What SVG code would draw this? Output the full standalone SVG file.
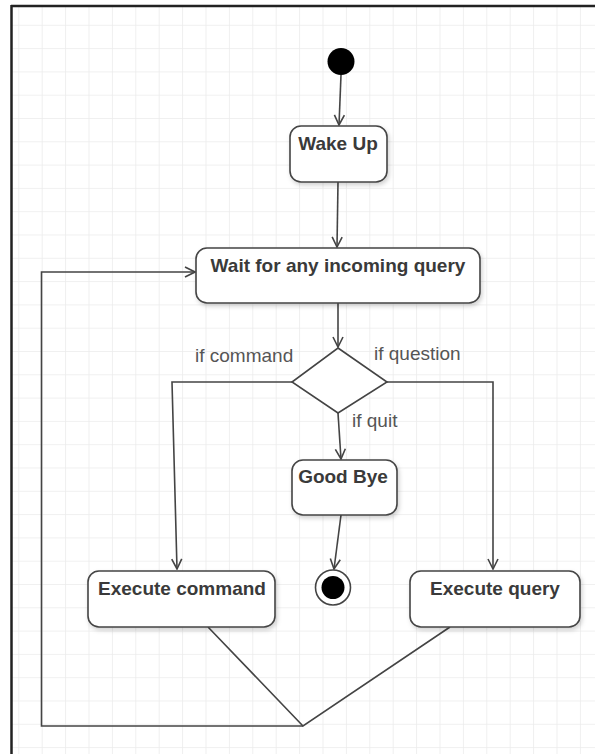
<svg xmlns="http://www.w3.org/2000/svg" width="595" height="754" viewBox="0 0 595 754">
<style>
.box{fill:#fff;stroke:#444;stroke-width:1.6}
.lbl{font-family:"Liberation Sans",Arial,sans-serif;font-weight:bold;font-size:19px;fill:#3a3a3a;text-anchor:middle}
.grd{font-family:"Liberation Sans",Arial,sans-serif;font-size:19px;fill:#555}
.cn{fill:none;stroke:#444;stroke-width:1.6}
</style>
<defs>
<pattern id="grid" width="23.4" height="23.3" patternUnits="userSpaceOnUse" x="18.3" y="1.5">
<path d="M0 0H23.4M0 0V23.3" fill="none" stroke="#ebebeb" stroke-width="1.5"/>
</pattern>
<marker id="arr" viewBox="0 0 12 12" refX="11" refY="6" markerWidth="12" markerHeight="12" markerUnits="userSpaceOnUse" orient="auto">
<path d="M1 1L11 6L1 11" fill="none" stroke="#444" stroke-width="1.6"/>
</marker>
<filter id="sh" x="-10%" y="-10%" width="130%" height="140%">
<feDropShadow dx="1.5" dy="2.5" stdDeviation="2" flood-color="#000" flood-opacity="0.18"/>
</filter>
</defs>
<rect width="595" height="754" fill="#fff"/>
<rect x="12" y="6" width="583" height="748" fill="url(#grid)"/>
<path d="M11 6H595M11.5 5V754" fill="none" stroke="#222" stroke-width="2.5"/>

<g id="connectors">
<path class="cn" d="M341 75L339 125" marker-end="url(#arr)"/>
<path class="cn" d="M338 182L337 247" marker-end="url(#arr)"/>
<path class="cn" d="M338 303L338 347" marker-end="url(#arr)"/>
<path class="cn" d="M292 382H172L177 569" marker-end="url(#arr)"/>
<path class="cn" d="M387 382H493V569" marker-end="url(#arr)"/>
<path class="cn" d="M338 413L341 459" marker-end="url(#arr)"/>
<path class="cn" d="M341 515L334 569" marker-end="url(#arr)"/>
<path class="cn" d="M208 627L303 726L450 627"/>
<path class="cn" d="M303 726H41.5V272H195" marker-end="url(#arr)"/>
</g>

<g id="start"><circle cx="341" cy="61.5" r="13.5" fill="#000"/></g>

<g id="wake-up">
<rect class="box" x="290" y="126" width="97" height="56" rx="11" filter="url(#sh)"/>
<text class="lbl" x="338" y="150">Wake Up</text>
</g>

<g id="wait">
<rect class="box" x="196" y="248" width="284" height="55" rx="11" filter="url(#sh)"/>
<text class="lbl" x="338" y="272">Wait for any incoming query</text>
</g>

<g id="decision">
<polygon class="box" points="338,348 387,382 338,413 292,382"/>
</g>

<g id="labels">
<text class="grd" x="195" y="362">if command</text>
<text class="grd" x="374" y="360">if question</text>
<text class="grd" x="352" y="427">if quit</text>
</g>

<g id="good-bye">
<rect class="box" x="292" y="460" width="105" height="55" rx="11" filter="url(#sh)"/>
<text class="lbl" x="343" y="483">Good Bye</text>
</g>

<g id="execute-command">
<rect class="box" x="88" y="571" width="187" height="56" rx="11" filter="url(#sh)"/>
<text class="lbl" x="182" y="595">Execute command</text>
</g>

<g id="execute-query">
<rect class="box" x="410" y="571" width="170" height="56" rx="11" filter="url(#sh)"/>
<text class="lbl" x="495" y="595">Execute query</text>
</g>

<g id="end">
<circle cx="333" cy="587.5" r="17.5" fill="#fff" stroke="#444" stroke-width="1.6"/>
<circle cx="333" cy="587.5" r="11.5" fill="#000"/>
</g>
</svg>
